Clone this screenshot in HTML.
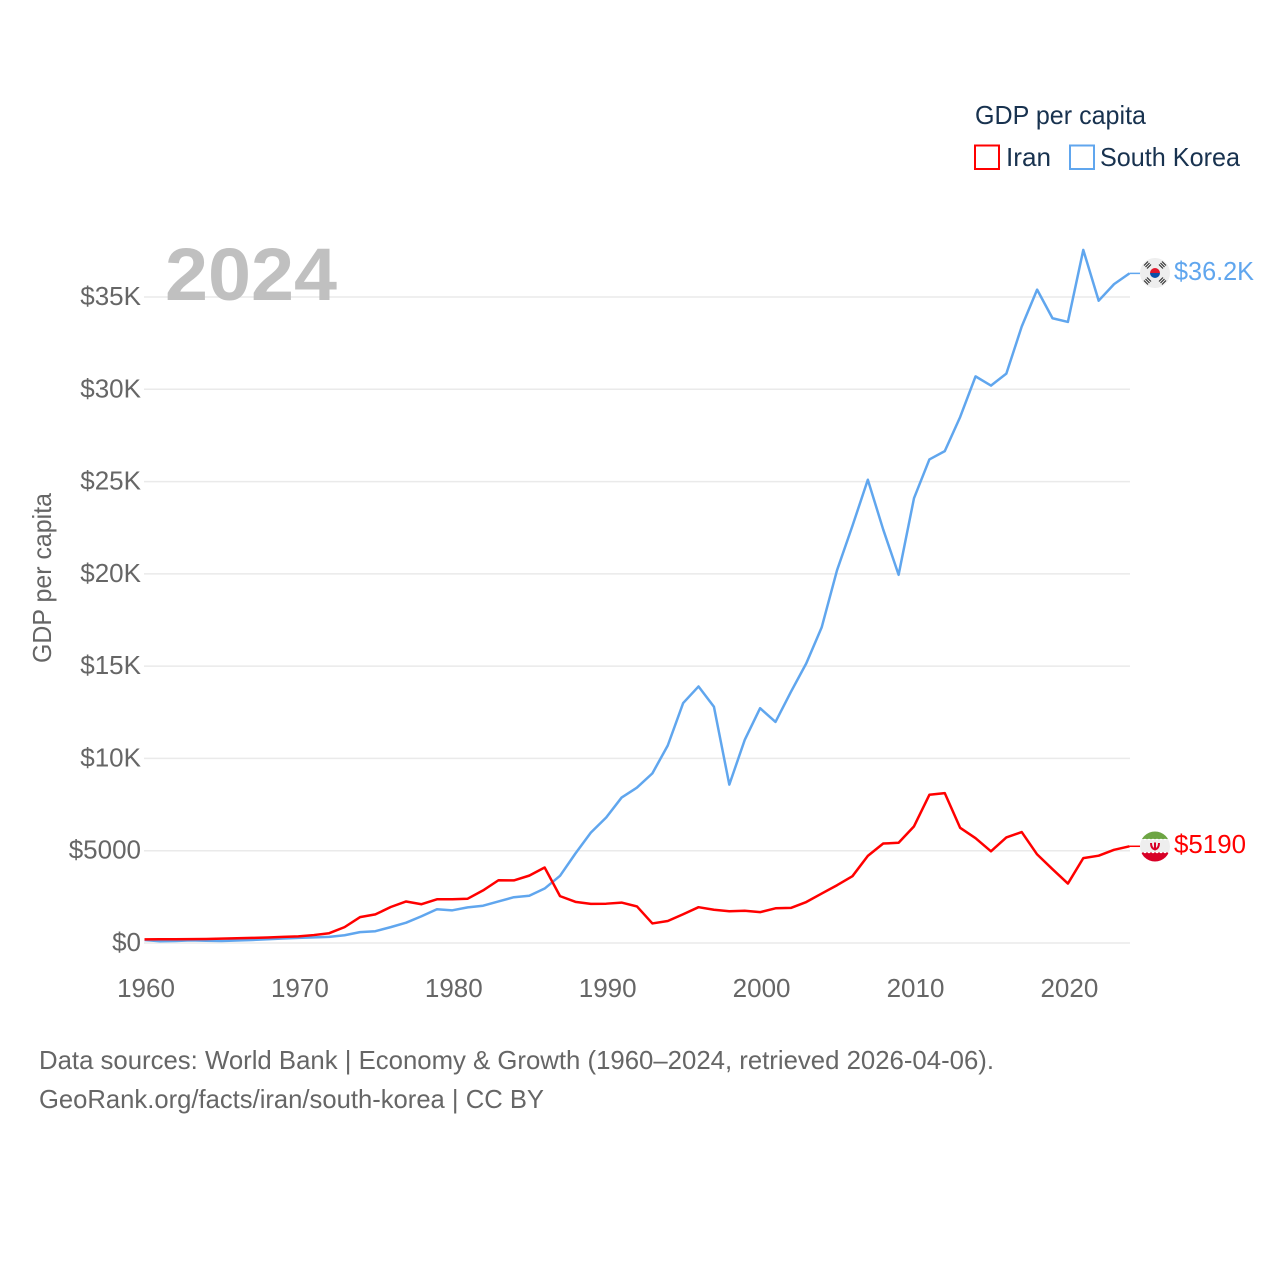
<!DOCTYPE html>
<html lang="en">
<head>
<meta charset="utf-8">
<title>GDP per capita: Iran and South Korea</title>
<style>
  html, body { margin: 0; padding: 0; background: #fff; }
  svg { display: block; font-family: "Liberation Sans", sans-serif; }
</style>
</head>
<body>
<svg id="chart" width="1280" height="1280" viewBox="0 0 1280 1280" xmlns="http://www.w3.org/2000/svg">
  <rect width="1280" height="1280" fill="#ffffff"/>
  <g id="grid"></g>
  <text x="165" y="300" font-size="74" font-weight="700" fill="#c0c0c0" textLength="172" lengthAdjust="spacingAndGlyphs">2024</text>
  <g id="y-ticks"></g>
  <g id="x-ticks"></g>
  <text transform="translate(51 578) rotate(-90)" text-anchor="middle" font-size="26" fill="#666666" textLength="170" lengthAdjust="spacingAndGlyphs">GDP per capita</text>
  <g id="series"></g>

  <g>
    <text x="975" y="124" font-size="26" fill="#18324f" textLength="171" lengthAdjust="spacingAndGlyphs">GDP per capita</text>
    <g>
      <rect x="975" y="145.500" width="24" height="23.500" fill="none" stroke="#ff0000" stroke-width="2"/>
      <text x="1006" y="166" font-size="26" fill="#18324f" textLength="45" lengthAdjust="spacingAndGlyphs">Iran</text>
    </g>
    <g>
      <rect x="1070" y="145.500" width="24" height="23.500" fill="none" stroke="#60a6ee" stroke-width="2"/>
      <text x="1100" y="166" font-size="26" fill="#18324f" textLength="140" lengthAdjust="spacingAndGlyphs">South Korea</text>
    </g>
  </g>

  <defs>
    <clipPath id="kr-clip"><circle cx="1155" cy="273" r="15"/></clipPath>
    <clipPath id="ir-clip"><circle cx="1155" cy="846.500" r="15"/></clipPath>
  </defs>
  <g clip-path="url(#kr-clip)">
    <rect x="1140" y="258" width="30" height="30" fill="#eeeeee"/>
    <path d="M1150 273a5 5 0 0 1 10 0z" fill="#e0182d"/>
    <path d="M1150 273a5 5 0 0 0 10 0z" fill="#0a50a8"/>
    <g stroke="#333333" stroke-width="1.200" fill="none">
      <path d="M1145.500 267l4-4M1147 268.500l4-4M1144 265.500l4-4"/>
      <path d="M1159 264.500l4 4M1160.500 263l4 4M1162 261.500l4 4"/>
      <path d="M1145.500 279l4 4M1144 280.500l4 4M1147 277.500l4 4"/>
      <path d="M1159 281.500l4-4M1160.500 283l4-4M1162 284.500l4-4"/>
    </g>
  </g>
  <g clip-path="url(#ir-clip)">
    <rect x="1140" y="831" width="30" height="8.500" fill="#6da544"/>
    <rect x="1140" y="839" width="30" height="13.500" fill="#eeeeee"/>
    <rect x="1140" y="852.500" width="30" height="10" fill="#d80027"/>
    <path d="M1140 839.500h30" stroke="#ffffff" stroke-width="1.200" stroke-dasharray="2 2"/>
    <path d="M1140 852.500h30" stroke="#ffffff" stroke-width="1.200" stroke-dasharray="2 2"/>
    <path d="M1151 843q0 5.500 4 6.500q4-1 4-6.500M1155 842.500v7.500" fill="none" stroke="#d80027" stroke-width="2"/>
  </g>

  <text x="1174" y="280" font-size="26" fill="#60a6ee" textLength="80" lengthAdjust="spacingAndGlyphs">$36.2K</text>
  <text x="1174" y="853" font-size="26" fill="#ff0000" textLength="72" lengthAdjust="spacingAndGlyphs">$5190</text>

  <text x="39" y="1069" font-size="26" fill="#666666" textLength="955" lengthAdjust="spacingAndGlyphs">Data sources: World Bank | Economy &amp; Growth (1960–2024, retrieved 2026-04-06).</text>
  <text x="39" y="1108" font-size="26" fill="#666666" textLength="505" lengthAdjust="spacingAndGlyphs">GeoRank.org/facts/iran/south-korea | CC BY</text>
</svg>

<script>
const startYear = 1960;
const iranValues = [195, 200, 205, 210, 220, 240, 255, 275, 300, 330, 360, 430, 530, 860, 1400, 1550, 1950, 2250, 2100, 2370, 2370, 2400, 2850, 3400, 3390, 3650, 4090, 2540, 2230, 2120, 2130, 2190, 1980, 1060, 1190, 1560, 1940, 1800, 1720, 1750, 1670, 1880, 1900, 2220, 2680, 3130, 3620, 4720, 5390, 5430, 6320, 8030, 8120, 6240, 5680, 4970, 5720, 6010, 4800, 4000, 3220, 4600, 4730, 5050, 5240];
const koreaValues = [160, 95, 105, 145, 125, 110, 135, 165, 200, 245, 280, 305, 335, 420, 590, 640, 860, 1100, 1450, 1830, 1770, 1930, 2020, 2250, 2480, 2560, 2950, 3640, 4850, 5980, 6800, 7880, 8420, 9190, 10700, 13000, 13900, 12800, 8580, 11000, 12720, 11980, 13600, 15150, 17100, 20200, 22600, 25100, 22400, 19950, 24100, 26200, 26650, 28500, 30700, 30200, 30850, 33400, 35400, 33850, 33650, 37550, 34800, 35700, 36280];
const yTickValues = [0, 5000, 10000, 15000, 20000, 25000, 30000, 35000];
const yTickLabels = ["$0", "$5000", "$10K", "$15K", "$20K", "$25K", "$30K", "$35K"];
const xTickYears = [1960, 1970, 1980, 1990, 2000, 2010, 2020];

const NS = "http://www.w3.org/2000/svg";
function xScale(year) { return 144.5 + (year - 1960) * 15.39; }
function yScale(value) { return 943 - value * 0.018457; }
function make(tag, attrs, parent) {
  const el = document.createElementNS(NS, tag);
  for (const k in attrs) el.setAttribute(k, attrs[k]);
  parent.appendChild(el);
  return el;
}

const grid = document.getElementById("grid");
const yTicks = document.getElementById("y-ticks");
const xTicks = document.getElementById("x-ticks");
const series = document.getElementById("series");

yTickValues.forEach(function (v, i) {
  const line = make("line", { x1: 144, x2: 1130, y1: yScale(v), y2: yScale(v), stroke: "#eaeaea", "stroke-width": 1.500 }, grid);
  
  
  const label = make("text", { x: 141, y: yScale(v) + 8, "text-anchor": "end", "font-size": 26, fill: "#666666" }, yTicks);
  
  
  label.textContent = yTickLabels[i];
});

xTickYears.forEach(function (year) {
  const label = make("text", { x: xScale(year) + 1.5, y: 997, "text-anchor": "middle", "font-size": 26, fill: "#666666" }, xTicks);
  
  
  label.textContent = year;
});

function pathFor(values) {
  return values.map(function (v, i) {
    return (i ? "L" : "M") + xScale(startYear + i).toFixed(2) + " " + yScale(v).toFixed(2);
  }).join("");
}

const koreaLine = make("path", { d: pathFor(koreaValues), fill: "none", stroke: "#60a6ee", "stroke-width": 2.500, "stroke-linejoin": "round" }, series);



const iranLine = make("path", { d: pathFor(iranValues), fill: "none", stroke: "#ff0000", "stroke-width": 2.500, "stroke-linejoin": "round" }, series);



const koreaEndY = yScale(koreaValues[koreaValues.length - 1]);
const koreaConnector = make("line", { x1: 1129.5, x2: 1140, y1: koreaEndY, y2: koreaEndY, stroke: "#60a6ee", "stroke-width": 1.500 }, series);



const iranEndY = yScale(iranValues[iranValues.length - 1]);
const iranConnector = make("line", { x1: 1129.5, x2: 1140, y1: iranEndY, y2: iranEndY, stroke: "#ff0000", "stroke-width": 1.500 }, series);


</script>
</body>
</html>
